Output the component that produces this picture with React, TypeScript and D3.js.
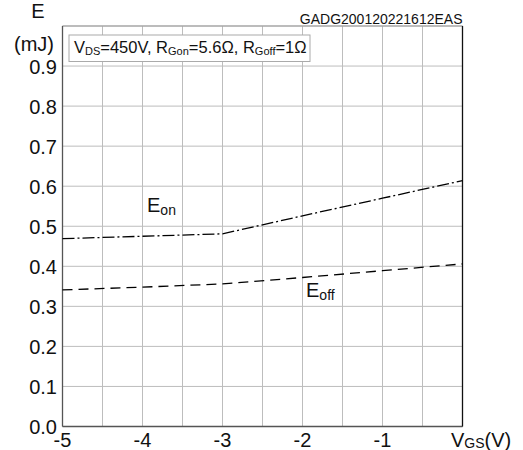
import React from "react";
import * as d3 from "d3";

// values
const vgs = [-5, -4, -3, -2, -1, 0];
const eOn = [0.469, 0.475, 0.481, 0.526, 0.57, 0.614];
const eOff = [0.341, 0.348, 0.356, 0.372, 0.389, 0.406];
const yTicks = [0, 0.1, 0.2, 0.3, 0.4, 0.5, 0.6, 0.7, 0.8, 0.9];
const xTicks = [-5, -4, -3, -2, -1];
const xGrid = d3.range(-5, 0.01, 0.5);
const yGrid = d3.range(0, 1.01, 0.1);

const W = 523;
const H = 450;
const margin = { top: 26, right: 60.5, bottom: 23.5, left: 62.5 };
const font = "Liberation Sans, Arial, sans-serif";

export default function App() {
  const x = d3.scaleLinear([-5, 0], [margin.left, W - margin.right]);
  const y = d3.scaleLinear([0, 1], [H - margin.bottom, margin.top]);

  const line = d3
    .line<number>()
    .x((_, i) => x(vgs[i]))
    .y((d) => y(d));

  return (
    <svg
      width={W}
      height={H}
      style={{ position: "absolute", left: 0, top: 0, background: "#fff" }}
      fontFamily={font}
    >
      <g stroke="#bdbdbd" strokeWidth={1}>
        {xGrid.map((v) => (
          <line key={"x" + v} x1={x(v)} x2={x(v)} y1={y(0)} y2={y(1)} />
        ))}
        {yGrid.map((v) => (
          <line key={"y" + v} x1={x(-5)} x2={x(0)} y1={y(v)} y2={y(v)} />
        ))}
      </g>

      {/* frame */}
      <line x1={x(-5)} x2={x(0)} y1={y(1)} y2={y(1)} stroke="#9a9a9a" />
      <line x1={x(-5)} x2={x(-5)} y1={y(0)} y2={y(1)} stroke="#555" strokeWidth={1.3} />
      <line x1={x(-5)} x2={x(0)} y1={y(0)} y2={y(0)} stroke="#555" strokeWidth={1.5} />
      <line x1={x(0)} x2={x(0)} y1={y(0)} y2={y(1)} stroke="#111" strokeWidth={1.3} />

      <path
        d={line(eOn) || ""}
        fill="none"
        stroke="#000"
        strokeWidth={1.3}
        strokeDasharray="12,3,2,3"
      />
      <path
        d={line(eOff) || ""}
        fill="none"
        stroke="#000"
        strokeWidth={1.3}
        strokeDasharray="10,6"
      />

      {/* legend */}
      <rect x={69} y={35} width={241} height={26.5} fill="#fff" stroke="#aaa" />
      <text x={74} y={53} fontSize={16.5} fill="#111">
        V<tspan fontSize={11} dy={2}>DS</tspan>
        <tspan dy={-2}>=450V, R</tspan>
        <tspan fontSize={11} dy={2}>Gon</tspan>
        <tspan dy={-2}>=5.6Ω, R</tspan>
        <tspan fontSize={11} dy={2}>Goff</tspan>
        <tspan dy={-2}>=1Ω</tspan>
      </text>

      <text x={x(0)} y={24} fontSize={14} textAnchor="end" fill="#111">
        GADG200120221612EAS
      </text>

      {/* axis titles */}
      <text x={38} y={18} fontSize={20} textAnchor="middle" fill="#111">E</text>
      <text x={34} y={51} fontSize={20} textAnchor="middle" fill="#111">(mJ)</text>

      {yTicks.map((v) => (
        <text
          key={v}
          x={57}
          y={y(v) + 7.5}
          fontSize={20}
          textAnchor="end"
          fill="#111"
        >
          {v.toFixed(1)}
        </text>
      ))}
      {xTicks.map((v) => (
        <text
          key={v}
          x={x(v)}
          y={447}
          fontSize={20}
          textAnchor="middle"
          fill="#111"
        >
          {v}
        </text>
      ))}
      <text x={451} y={447} fontSize={20} fill="#111">
        V<tspan fontSize={14} dy={1}>GS</tspan>
        <tspan dy={-1}>(V)</tspan>
      </text>

      <text x={147} y={212} fontSize={20} fill="#111">
        E<tspan fontSize={14} dy={3}>on</tspan>
      </text>
      <text x={306} y={297} fontSize={20} fill="#111">
        E<tspan fontSize={14} dy={3}>off</tspan>
      </text>
    </svg>
  );
}
